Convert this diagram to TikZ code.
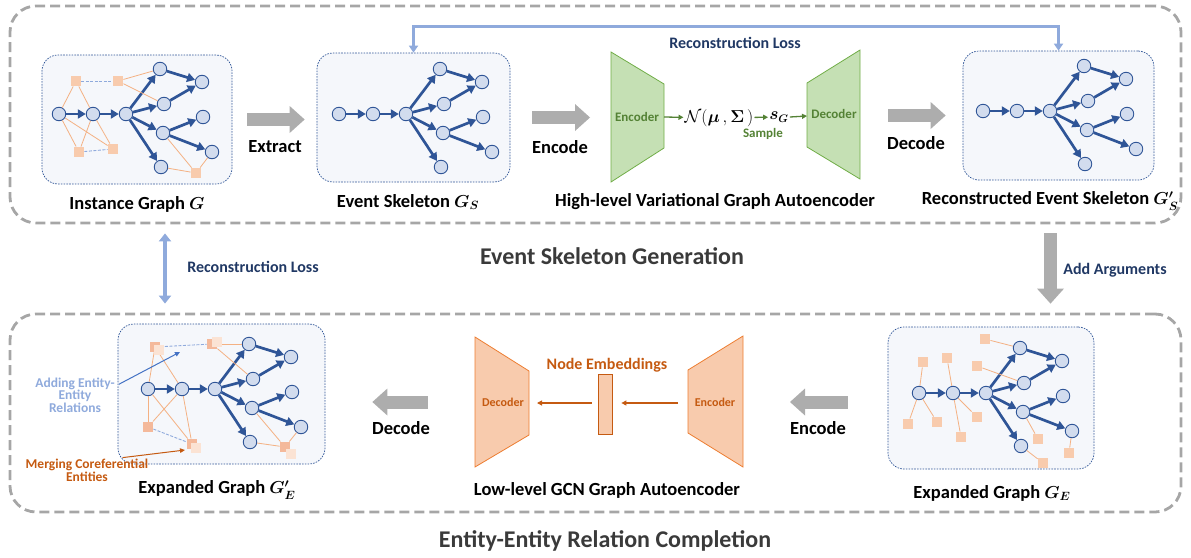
\documentclass[tikz,border=0pt]{standalone}
\usepackage{fontspec}
\setmainfont{Carlito}
\usepackage{amsmath,bm}
\usetikzlibrary{arrows.meta, positioning, calc}

\definecolor{EvtBlue}{HTML}{2F5597}
\definecolor{EvtFill}{HTML}{D2DCEE}
\definecolor{EntFill}{HTML}{F8CBAD}
\definecolor{EntDark}{HTML}{F4B99B}
\definecolor{EntLight}{HTML}{FBE3D4}
\definecolor{EntLine}{HTML}{F4B183}
\definecolor{RelBlue}{HTML}{8FAADC}
\definecolor{BoxFill}{HTML}{F5F7FB}
\definecolor{FrameGray}{HTML}{A6A6A6}
\definecolor{ArrowGray}{HTML}{ADADAD}
\definecolor{LossBlue}{HTML}{8FAADC}
\definecolor{NavyText}{HTML}{203864}
\definecolor{TitleGray}{HTML}{3A3A3A}
\definecolor{VaeFill}{HTML}{C5E0B4}
\definecolor{VaeLine}{HTML}{70AD47}
\definecolor{VaeText}{HTML}{548235}
\definecolor{GcnFill}{HTML}{F8CBAD}
\definecolor{GcnLine}{HTML}{ED7D31}
\definecolor{GcnText}{HTML}{C55A11}
\definecolor{NoteBlue}{HTML}{4472C4}

\newcommand{\pxfont}[1]{\fontsize{#1}{#1}\selectfont}

\tikzset{
  evt/.style={circle, draw=EvtBlue, fill=EvtFill, line width=0.9pt, minimum size=13.5pt, inner sep=0pt},
  ent/.style={rectangle, fill=EntFill, minimum size=10.5pt, inner sep=0pt},
  entdark/.style={ent, fill=EntDark},
  entlight/.style={ent, fill=EntLight},
  evarr/.style={-{Triangle[length=8pt,width=9pt]}, line width=2.7pt, draw=EvtBlue},
  entline/.style={draw=EntLine, line width=0.8pt},
  relline/.style={draw=RelBlue, line width=0.9pt, dash pattern=on 3pt off 1.5pt},
  graphbox/.style={draw=EvtBlue, line width=0.7pt, dash pattern=on 1.6pt off 1.2pt, fill=BoxFill, rounded corners=16pt, inner sep=0pt},
  outerframe/.style={draw=FrameGray, line width=2.8pt, dash pattern=on 10pt off 5pt, rounded corners=26pt, inner sep=0pt},
  grayarr/.style={-{Triangle[length=15pt,width=27pt,line width=0pt]}, line width=13pt, draw=ArrowGray},
  lossarr/.style={{Triangle[length=7pt,width=9pt]}-{Triangle[length=7pt,width=9pt]}, line width=2.6pt, draw=LossBlue},
  lbl/.style={font=\pxfont{18.5}\bfseries\boldmath, text=black, inner sep=0pt},
  sectitle/.style={font=\pxfont{24}\bfseries, text=TitleGray, inner sep=0pt},
  losstxt/.style={font=\pxfont{16}\bfseries, text=NavyText, inner sep=0pt},
  notetxt/.style={font=\fontsize{13.5}{11.5}\selectfont\bfseries, align=center, inner sep=0pt},
  notearr/.style={-{Triangle[length=5pt,width=4.5pt]}, line width=1pt}
}

% event skeleton: prefix, x, y of the first event
\newcommand{\eventskel}[3]{%
  \begin{scope}[shift={(#2,#3)}]
    \node[evt] (#1a1) at (0,0) {};
    \node[evt] (#1a2) at (34,0) {};
    \node[evt] (#1a3) at (67,0) {};
    \node[evt] (#1b1) at (101,-45) {};
    \node[evt] (#1b2) at (105,-10) {};
    \node[evt] (#1b3) at (104,19) {};
    \node[evt] (#1b4) at (102,53) {};
    \node[evt] (#1c1) at (143,-32) {};
    \node[evt] (#1c2) at (144,3) {};
    \node[evt] (#1c3) at (153,38) {};
    \foreach \s/\t in {a1/a2,a2/a3,a3/b1,a3/b2,a3/b3,a3/b4,b1/c1,b2/c1,b3/c2,b3/c3}
      \draw[evarr] (#1\s) -- (#1\t);
  \end{scope}}

\begin{document}
\begin{tikzpicture}[x=1pt, y=-1pt,
  vaeshape/.style={fill=VaeFill, draw=VaeLine, line width=0.8pt},
  gcnshape/.style={fill=GcnFill, draw=GcnLine, line width=0.8pt},
  vaetxt/.style={font=\pxfont{13}\bfseries, text=VaeText, inner sep=1pt},
  gcntxt/.style={font=\pxfont{12}\bfseries, text=GcnText, inner sep=1pt},
  greenarr/.style={-{Triangle[length=5pt,width=5pt]}, line width=1.3pt, draw=VaeText},
  gcnarr/.style={-{Triangle[length=5pt,width=5pt]}, line width=1.1pt, draw=GcnText}
]
\useasboundingbox (0,0) rectangle (1191,557);

% outer frames
\node[outerframe, minimum width=1171pt, minimum height=217pt] (topfr) at (595.5,114.5) {};
\node[outerframe, minimum width=1171pt, minimum height=198pt] (botfr) at (595.5,413) {};
\node[sectitle] at (612,256) {Event Skeleton Generation};
\node[sectitle] at (605,541) {Entity-Entity Relation Completion};

% graph boxes
\node[graphbox, minimum width=190pt, minimum height=129pt] (inst) at (137,119.5) {};
\node[graphbox, minimum width=193pt, minimum height=129pt] (skel) at (413.5,117.5) {};
\node[graphbox, minimum width=191pt, minimum height=129pt] (recon) at (1058.5,115.5) {};
\node[graphbox, minimum width=207pt, minimum height=140pt] (gEp) at (221.5,394) {};
\node[graphbox, minimum width=206pt, minimum height=142pt] (gE) at (991,398) {};

% instance graph
\node[ent] (ie1) at (76,81) {};
\node[ent] (ie2) at (118,81) {};
\node[ent] (ie3) at (79,152) {};
\node[ent] (ie4) at (113,149) {};
\node[ent] (ie5) at (196,173) {};
\eventskel{i}{59}{114}
\foreach \s/\t in {ie1/ia1,ie1/ia2,ie3/ia1,ie3/ia2,ie4/ia1,ie4/ia2,ie2/ib1,ie2/ib2,ie5/ib3,ie5/ib4,ie5/ic3}
  \draw[entline] (\s) -- (\t);
\draw[relline] (ie1) -- (ie2);
\draw[relline] (ie3) -- (ie4);

% event skeleton and reconstruction
\eventskel{s}{339}{114}
\eventskel{r}{983}{111}

% expanded graph G'_E
\node[entdark] (pe1) at (155,347) {};
\node[entdark] (pe2) at (212,344) {};
\node[entdark] (pe3) at (148,427) {};
\node[entdark] (pe4) at (192,444) {};
\node[entdark] (pe5) at (285,447) {};
\eventskel{p}{148}{389}
\foreach \s/\t in {pe1/pa1,pe1/pa2,pe3/pa1,pe3/pa2,pe4/pa1,pe4/pa2,pe2/pb1,pe2/pb2,pe5/pb3,pe5/pb4,pe5/pc3}
  \draw[entline] (\s) -- (\t);
\draw[relline] (pe1) -- (pe2);
\draw[relline] (pe3) -- (pe4);
\node[entlight] (pe1b) at (159,350) {};
\node[entlight] (pe2b) at (217,342) {};
\node[entlight] (pe4b) at (196,448) {};
\node[entlight] (pe5b) at (291,454) {};

% expanded graph G_E
\node[ent] (ge1) at (923,362) {};
\node[ent] (ge2) at (947,358) {};
\node[ent] (ge3) at (908,424) {};
\node[ent] (ge4) at (937,422) {};
\node[ent] (ge5) at (977,417) {};
\node[ent] (ge6) at (961,437) {};
\node[ent] (ge7) at (985,339) {};
\node[ent] (ge8) at (977,366) {};
\node[ent] (ge9) at (1038,439) {};
\node[ent] (ge10) at (1043,463) {};
\node[ent] (ge11) at (1069,453) {};
\eventskel{g}{919}{393}
\foreach \s/\t in {ge1/ga1,ge2/ga2,ge3/ga1,ge4/ga1,ge5/ga2,ge6/ga2,ge7/gb1,ge8/gb2,ge9/gb3,ge10/gb4,ge11/gc3}
  \draw[entline] (\s) -- (\t);

% captions
\node[lbl] at (137,204) {Instance Graph $G$};
\node[lbl] at (408,202) {Event Skeleton $G_S$};
\node[lbl] at (715,202) {High-level Variational Graph Autoencoder};
\node[lbl] at (1050,201) {Reconstructed Event Skeleton $G'_S$};
\node[lbl] at (217,490) {Expanded Graph $G'_E$};
\node[lbl] at (607,490) {Low-level GCN Graph Autoencoder};
\node[lbl] at (992,493) {Expanded Graph $G_E$};

% high-level VGAE
\draw[vaeshape] (611,52) -- (664,84) -- (664,148) -- (611,182) -- cycle;
\draw[vaeshape] (807,83) -- (860,50) -- (860,179) -- (807,147) -- cycle;
\coordinate (vencL) at (611,117.5);
\coordinate (vencR) at (664,117);
\coordinate (vdecL) at (807,116);
\coordinate (vdecR) at (860,115.5);
\node[vaetxt] (venc) at (637,117) {Encoder};
\node[vaetxt] (vdec) at (834,114) {Decoder};
\node[inner sep=1pt, font=\pxfont{16}] (normal) at (719,118) {$\mathcal{N}(\boldsymbol{\mu}\,,\boldsymbol{\Sigma}\,)$};
\node[inner sep=1pt, font=\pxfont{16}\boldmath] (sg) at (779,117) {$s_G$};
\node[vaetxt] (sample) at (763,134) {Sample};
\draw[greenarr] (vencR) -- (normal);
\draw[greenarr] (normal) -- (sg);
\draw[greenarr] (sg.east) -- (vdecL);

% top flow
\draw[grayarr, shorten <=15pt, shorten >=12pt] (inst.east) -- (inst.east -| skel.west);
\draw[grayarr, shorten <=22pt, shorten >=21pt] (skel.east) -- (skel.east -| vencL);
\draw[grayarr, shorten <=28pt, shorten >=17pt] (vdecR) -- (vdecR -| recon.west);
\node[lbl] at (275,147) {Extract};
\node[lbl] at (560,147) {Encode};
\node[lbl] at (916,143) {Decode};
\draw[lossarr] (skel.north) -- ++(0,-26) -| (recon.north);
\node[losstxt] at (735,43) {Reconstruction Loss};

% between the stages
\draw[grayarr, shorten <=9pt, shorten >=9pt] ($(topfr.south -| recon.south)+(-8,0)$) -- ($(botfr.north -| recon.south)+(-8,0)$);
\node[losstxt] at (1115,270) {Add Arguments};
\draw[lossarr, line width=3.5pt, {Triangle[length=8pt,width=12pt]}-{Triangle[length=8pt,width=12pt]}] ($(topfr.south -| inst.south)+(28,9)$) -- ($(botfr.north -| inst.south)+(28,-9)$);
\node[losstxt] at (253,267) {Reconstruction Loss};

% low-level GCN autoencoder
\draw[gcnshape] (475,337) -- (529,371) -- (529,435) -- (475,467) -- cycle;
\draw[gcnshape] (688,370) -- (743,336) -- (743,467) -- (688,433) -- cycle;
\coordinate (gdecL) at (475,402);
\coordinate (gdecR) at (529,403);
\coordinate (gencL) at (688,403);
\coordinate (gencR) at (743,402);
\node[gcntxt] (gdec) at (503,402) {Decoder};
\node[gcntxt] (genc) at (715,402) {Encoder};
\node[draw=GcnText, fill=GcnFill, line width=0.8pt, minimum width=14pt, minimum height=60pt, inner sep=0pt] (emb) at (605,404) {};
\node[gcntxt, font=\pxfont{16}\bfseries] (embtxt) at (607,365) {Node Embeddings};
\draw[gcnarr, shorten <=10pt, shorten >=9pt] (gencL) -- (gencL -| emb.east);
\draw[gcnarr, shorten <=6pt, shorten >=8pt] (emb.west |- gdecR) -- (gdecR);

% bottom flow
\draw[grayarr, shorten <=47pt, shorten >=47pt] (gdecL) -- (gdecL -| gEp.east);
\draw[grayarr, shorten <=40pt, shorten >=47pt] (gE.west |- gencR) -- (gencR);
\node[lbl] at (401,428) {Decode};
\node[lbl] at (818,428) {Encode};

% notes
\node[notetxt, text=RelBlue] (addnote) at (75,395) {Adding Entity-\\Entity\\Relations};
\coordinate (addtip) at (180,352);
\draw[notearr, draw=NoteBlue] ([xshift=4pt,yshift=-7pt]addnote.north east) -- (addtip);
\node[notetxt, text=GcnText] (mergenote) at (87,470) {Merging Coreferential\\Entities};
\coordinate (mergetip) at (185,450);
\draw[notearr, draw=GcnText] ([xshift=-26pt,yshift=1pt]mergenote.north east) -- (mergetip);
\end{tikzpicture}
\end{document}
